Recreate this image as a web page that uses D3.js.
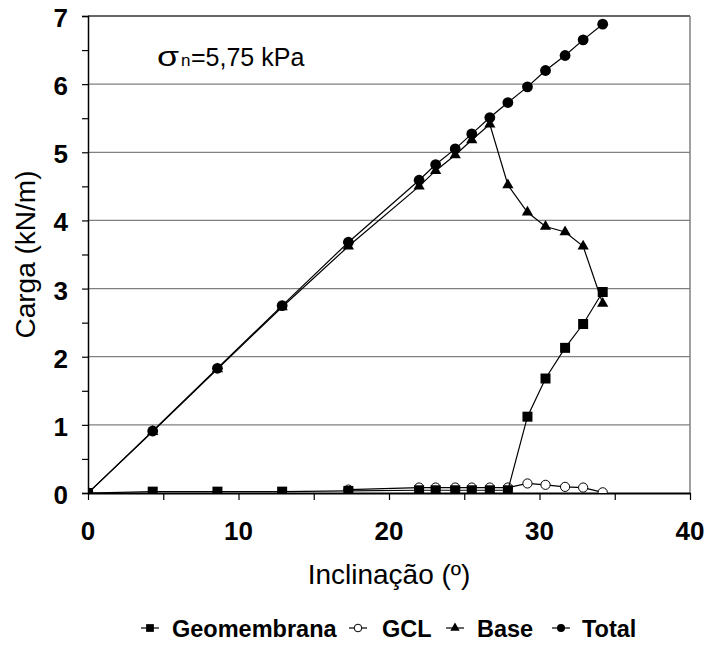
<!DOCTYPE html>
<html>
<head>
<meta charset="utf-8">
<script src="https://cdn.jsdelivr.net/npm/d3@7/dist/d3.min.js"></script>
<style>
html,body{margin:0;padding:0;background:#fff;}
svg{display:block;font-family:"Liberation Sans",Arial,sans-serif;}
</style>
</head>
<body>
<svg id="chart" width="709" height="646"></svg>
<script>
// ---- data ----
const inclinacao = [0, 4.3, 8.6, 12.9, 17.3, 22.0, 23.1, 24.4, 25.5, 26.7, 27.9, 29.2, 30.4, 31.7, 32.9, 34.2];
const geomembrana = [0, 0.02, 0.02, 0.02, 0.03, 0.04, 0.04, 0.04, 0.04, 0.04, 0.04, 1.12, 1.68, 2.13, 2.48, 2.95];
const inclinacaoGCL = [17.3, 22.0, 23.1, 24.4, 25.5, 26.7, 27.9, 29.2, 30.4, 31.7, 32.9, 34.2];
const gcl = [0.05, 0.08, 0.08, 0.08, 0.08, 0.08, 0.08, 0.14, 0.12, 0.09, 0.08, 0.01];
const base = [0, 0.90, 1.82, 2.73, 3.62, 4.50, 4.73, 4.96, 5.18, 5.41, 4.52, 4.12, 3.91, 3.83, 3.62, 2.78];
const total = [0, 0.91, 1.83, 2.75, 3.68, 4.59, 4.82, 5.05, 5.27, 5.51, 5.73, 5.96, 6.20, 6.42, 6.65, 6.88];
const xTicks = [0, 10, 20, 30, 40];
const yTicks = [0, 1, 2, 3, 4, 5, 6, 7];
const seriesNames = ["Geomembrana", "GCL", "Base", "Total"];
const xTitle = "Inclinação (º)";
const yTitle = "Carga (kN/m)";

// ---- layout ----
const L = 88, R = 690, T = 16, B = 493;
const svg = d3.select("#chart");
const x = d3.scaleLinear().domain([0, 40]).range([L, R]);
const y = d3.scaleLinear().domain([0, 7]).range([B, T]);

// gridlines
svg.append("g").selectAll("line").data(yTicks.filter(v => v > 0 && v < 7)).join("line")
  .attr("x1", L).attr("x2", R).attr("y1", d => y(d)).attr("y2", d => y(d))
  .attr("stroke", "#808080").attr("stroke-width", 1.3);
// plot border (top & right)
svg.append("line").attr("x1", L).attr("x2", R).attr("y1", T).attr("y2", T).attr("stroke", "#333").attr("stroke-width", 1.5);
svg.append("line").attr("x1", R).attr("x2", R).attr("y1", T).attr("y2", B).attr("stroke", "#808080").attr("stroke-width", 1.5);

// axes
const yAxis = d3.axisLeft(y).tickValues(d3.range(0, 7.01, 0.5)).tickSize(6).tickFormat("");
const gy = svg.append("g").attr("transform", `translate(${L},0)`).call(yAxis);
gy.select(".domain").attr("stroke", "#000").attr("stroke-width", 1.5);
gy.selectAll(".tick line").attr("stroke", "#000").attr("stroke-width", 1.2);
const xAxis = d3.axisBottom(x).tickValues(d3.range(0, 40.01, 5)).tickSize(7).tickSizeOuter(0).tickFormat("");
const gx = svg.append("g").attr("transform", `translate(0,${B})`).call(xAxis);
gx.select(".domain").attr("stroke", "#000").attr("stroke-width", 2);
gx.selectAll(".tick line").attr("stroke", "#000").attr("stroke-width", 1.2);

// tick labels
svg.append("g").selectAll("text").data(yTicks).join("text")
  .attr("x", 68).attr("y", d => y(d) + 11)
  .attr("text-anchor", "end").attr("font-size", 26).attr("font-weight", "bold")
  .text(d => d);
svg.append("g").selectAll("text").data(xTicks).join("text")
  .attr("x", d => x(d)).attr("y", 540)
  .attr("text-anchor", "middle").attr("font-size", 26).attr("font-weight", "bold")
  .text(d => d);

// titles
svg.append("text").attr("x", (L + R) / 2).attr("y", 584).attr("text-anchor", "middle")
  .attr("font-size", 28).text(xTitle);
svg.append("text").attr("transform", `translate(35,${(T + B) / 2}) rotate(-90)`)
  .attr("text-anchor", "middle").attr("font-size", 28).text(yTitle);

// annotation
svg.append("text").attr("x", 157).attr("y", 66).attr("font-size", 27)
  .attr("textLength", 22).attr("lengthAdjust", "spacingAndGlyphs").text("σ");
svg.append("text").attr("x", 181).attr("y", 66).attr("font-size", 17).text("n");
svg.append("text").attr("x", 191).attr("y", 66).attr("font-size", 25).text("=5,75 kPa");

// clip
svg.append("clipPath").attr("id", "clip").append("rect")
  .attr("x", L).attr("y", T - 10).attr("width", R - L + 10).attr("height", B - T + 10);
const plot = svg.append("g").attr("clip-path", "url(#clip)");

const line = d3.line().x(d => x(d[0])).y(d => y(d[1]));
const zip = (xs, ys) => xs.map((v, i) => [v, ys[i]]);
const dGeo = zip(inclinacao, geomembrana);
const dGcl = zip(inclinacaoGCL, gcl);
const dBase = zip(inclinacao, base);
const dTot = zip(inclinacao, total);

const sq = d3.symbol().type(d3.symbolSquare).size(100);
const tri = d3.symbol().type(d3.symbolTriangle).size(55);

// draw order: GCL, Geomembrana, Base, Total
[[dGcl, "gcl"], [dGeo, "geo"], [dBase, "base"], [dTot, "tot"]].forEach(([data, kind]) => {
  plot.append("path").datum(data).attr("d", line)
    .attr("fill", "none").attr("stroke", "#000").attr("stroke-width", 1.2);
  const g = plot.append("g");
  if (kind === "gcl") {
    g.selectAll("circle").data(data).join("circle")
      .attr("cx", d => x(d[0])).attr("cy", d => y(d[1])).attr("r", 4.6)
      .attr("fill", "#fff").attr("stroke", "#000").attr("stroke-width", 1);
  } else if (kind === "tot") {
    g.selectAll("circle").data(data).join("circle")
      .attr("cx", d => x(d[0])).attr("cy", d => y(d[1])).attr("r", 5.4).attr("fill", "#000");
  } else {
    g.selectAll("path").data(data).join("path")
      .attr("transform", d => `translate(${x(d[0])},${y(d[1])})`)
      .attr("d", kind === "geo" ? sq : tri).attr("fill", "#000");
  }
});

// legend
const legY = 628;
const leg = [
  {name: seriesNames[0], sx: 150, tx: 172, kind: "geo"},
  {name: seriesNames[1], sx: 358, tx: 382, kind: "gcl"},
  {name: seriesNames[2], sx: 455, tx: 477, kind: "base"},
  {name: seriesNames[3], sx: 561, tx: 582, kind: "tot"}
];
const lg = svg.append("g");
leg.forEach(it => {
  lg.append("line").attr("x1", it.sx - 9).attr("x2", it.sx + 9).attr("y1", legY).attr("y2", legY)
    .attr("stroke", "#000").attr("stroke-width", 1.2);
  if (it.kind === "geo") {
    lg.append("path").attr("transform", `translate(${it.sx},${legY})`)
      .attr("d", d3.symbol().type(d3.symbolSquare).size(60)()).attr("fill", "#000");
  } else if (it.kind === "gcl") {
    lg.append("circle").attr("cx", it.sx).attr("cy", legY).attr("r", 3.8)
      .attr("fill", "#fff").attr("stroke", "#000").attr("stroke-width", 1);
  } else if (it.kind === "base") {
    lg.append("path").attr("transform", `translate(${it.sx},${legY})`)
      .attr("d", d3.symbol().type(d3.symbolTriangle).size(38)()).attr("fill", "#000");
  } else {
    lg.append("circle").attr("cx", it.sx).attr("cy", legY).attr("r", 4).attr("fill", "#000");
  }
  lg.append("text").attr("x", it.tx).attr("y", legY + 9).attr("font-size", 23.5)
    .attr("font-weight", "bold").text(it.name);
});
</script>
</body>
</html>
